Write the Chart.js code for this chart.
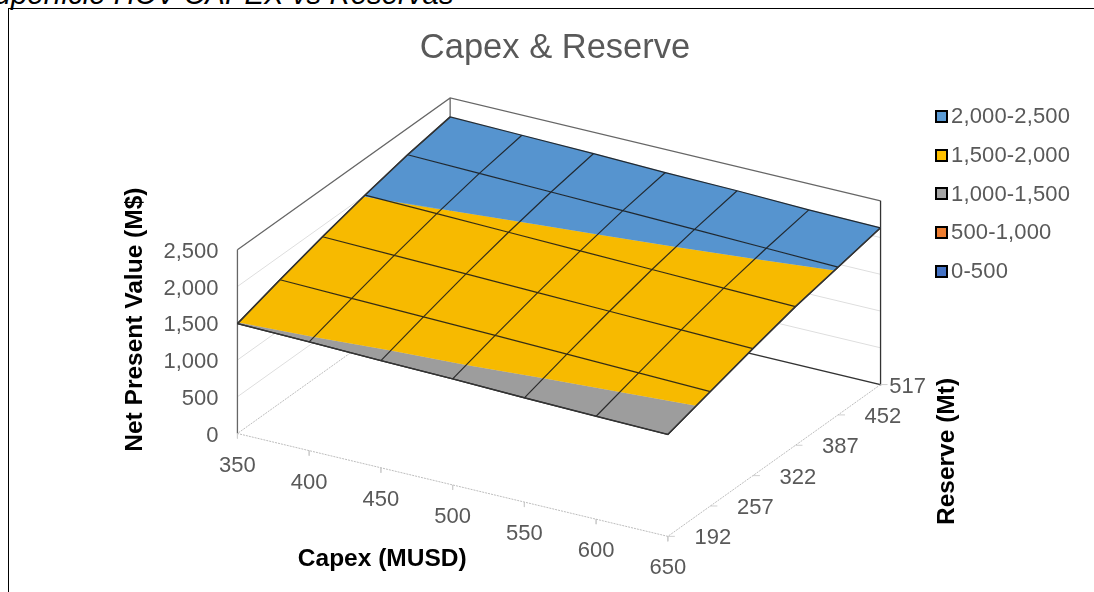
<!DOCTYPE html>
<html>
<head>
<meta charset="utf-8">
<title>Capex & Reserve</title>
<script src="https://cdn.jsdelivr.net/npm/chart.js@4/dist/chart.umd.min.js"></script>
<style>
    html, body { margin: 0; height: 100%; overflow: hidden; background: #fff; }
    #caption {
        position: absolute; left: -25px; top: -21px; white-space: nowrap;
        font: italic 29.4px/29px "Liberation Sans", Arial, sans-serif; color: #000;
    }
    #frame {
        position: absolute; left: 8px; top: 8px; width: 1200px; height: 700px;
        border-left: 1px solid #000; border-top: 1px solid #000;
    }
    #chart { position: absolute; left: 0; top: 0; }
    #legend {
        position: absolute; left: 926px; top: 88px; margin: 0; padding: 0; list-style: none;
        font: 22px/38.75px "Liberation Sans", Arial, sans-serif; color: #595959; letter-spacing: 0.15px;
    }
    #legend li { display: flex; align-items: center; white-space: nowrap; height: 38.75px; }
    #legend i { display: block; box-sizing: border-box; width: 13px; height: 13px; margin-right: 3px; border: 2px solid #000; }
</style>
</head>
<body>
<div id="caption">Superficie HCV CAPEX vs Reservas</div>
<div id="frame"><canvas id="chart" width="1092" height="600"></canvas><ul id="legend"></ul></div>
<script>
    var capexValues = [350, 400, 450, 500, 550, 600, 650];
    var reserveValues = [192, 257, 322, 387, 452, 517];
    var npvTicks = [0, 500, 1000, 1500, 2000, 2500];

    // one row per reserve, one column per capex
    var npv192 = [1495, 1480, 1458, 1443, 1418, 1401, 1386];
    var npv257 = [1679, 1659, 1641, 1621, 1600, 1578, 1557];
    var npv322 = [1851, 1830, 1812, 1790, 1770, 1750, 1728];
    var npv387 = [2005, 1985, 1965, 1945, 1925, 1905, 1886];
    var npv452 = [2140, 2120, 2100, 2080, 2058, 2035, 2010];
    var npv517 = [2242, 2226, 2210, 2185, 2170, 2144, 2133];
    var npvRows = [npv192, npv257, npv322, npv387, npv452, npv517];

    var bandLabels = ['2,000-2,500', '1,500-2,000', '1,000-1,500', '500-1,000', '0-500'];
    var bandLow = [2000, 1500, 1000, 500, 0];
    var bandHigh = [2500, 2000, 1500, 1000, 500];

    var surfaceColors = ['#5694cf', '#f7ba00', '#9d9d9d', '#e2762e', '#4069b8'];
    var swatchColors = ['#5b9bd5', '#ffc000', '#a5a5a5', '#ed7d31', '#4472c4'];
    var FONT = '"Liberation Sans", Arial, sans-serif';
    var TEXT = '#595959';

    // oblique projection of the box: floor origin, then one vector per axis
    var ORIGIN = { x: 228, y: 425 };
    var CAPEX_VEC = { x: 431, y: 103 };
    var RESERVE_VEC = { x: 213, y: -152 };
    var NPV_VEC = { x: 0, y: -184 };

    function project(capex, reserve, npv) {
        var c = (capex - 350) / 300;
        var r = (reserve - 192) / 325;
        var z = npv / 2500;
        return {
            x: ORIGIN.x + c * CAPEX_VEC.x + r * RESERVE_VEC.x + z * NPV_VEC.x,
            y: ORIGIN.y + c * CAPEX_VEC.y + r * RESERVE_VEC.y + z * NPV_VEC.y
        };
    }

    // clip one grid cell to a value band, returns the corners as [capex, reserve, npv]
    function clipCell(cell, low, high) {
        function clip(poly, keep, limit) {
            var out = [];
            for (var i = 0; i < poly.length; i++) {
                var a = poly[i], b = poly[(i + 1) % poly.length];
                if (keep(a[2])) out.push(a);
                if (keep(a[2]) !== keep(b[2])) {
                    var t = (limit - a[2]) / (b[2] - a[2]);
                    out.push([a[0] + t * (b[0] - a[0]), a[1] + t * (b[1] - a[1]), limit]);
                }
            }
            return out;
        }
        var poly = clip(cell, function(v) { return v >= low; }, low);
        return poly.length ? clip(poly, function(v) { return v <= high; }, high) : poly;
    }

    function bandPoints(low, high) {
        var pts = [];
        for (var r = 0; r < reserveValues.length - 1; r++) {
            for (var c = 0; c < capexValues.length - 1; c++) {
                var cell = [
                    [capexValues[c], reserveValues[r], npvRows[r][c]],
                    [capexValues[c + 1], reserveValues[r], npvRows[r][c + 1]],
                    [capexValues[c + 1], reserveValues[r + 1], npvRows[r + 1][c + 1]],
                    [capexValues[c], reserveValues[r + 1], npvRows[r + 1][c]]
                ];
                var poly = clipCell(cell, low, high);
                if (!poly.length) continue;
                poly.forEach(function(p) { pts.push(project(p[0], p[1], p[2])); });
                pts.push({ x: null, y: null });
            }
        }
        return pts;
    }

    function gridPoints() {
        var pts = [];
        npvRows.forEach(function(row, r) {
            row.forEach(function(v, c) { pts.push(project(capexValues[c], reserveValues[r], v)); });
            pts.push({ x: null, y: null });
        });
        capexValues.forEach(function(capex, c) {
            reserveValues.forEach(function(reserve, r) { pts.push(project(capex, reserve, npvRows[r][c])); });
            pts.push({ x: null, y: null });
        });
        return pts;
    }

    // front, right and left rim of the surface, a little heavier than the inner grid
    function rimPoints() {
        var lastCol = capexValues.length - 1, pts = [];
        reserveValues.forEach(function(reserve, r) { pts.push(project(350, reserve, npvRows[r][0])); });
        pts.push({ x: null, y: null });
        capexValues.forEach(function(capex, c) { pts.push(project(capex, 192, npvRows[0][c])); });
        reserveValues.forEach(function(reserve, r) { pts.push(project(650, reserve, npvRows[r][lastCol])); });
        return pts;
    }

    function segment(a, b) { return [a, b, { x: null, y: null }]; }

    function wallGrid() {
        var pts = [];
        npvTicks.slice(1, -1).forEach(function(v) {
            pts = pts.concat([project(350, 192, v), project(350, 517, v), project(650, 517, v), { x: null, y: null }]);
        });
        return pts;
    }

    function boxEdges() {
        return [].concat(
            segment(project(350, 192, 0), project(350, 192, 2500)),
            [project(350, 192, 2500), project(350, 517, 2500), project(650, 517, 2500), { x: null, y: null }],
            segment(project(350, 517, 0), project(350, 517, 2500))
        );
    }

    // right wall upright and the back floor edge read darker than the rest
    function backEdges() {
        return [project(650, 517, 2500), project(650, 517, 0), project(350, 517, 0)];
    }

    function floorEdges() {
        return [project(350, 517, 0), project(350, 192, 0), project(650, 192, 0), project(650, 517, 0)];
    }

    function floorTicks() {
        var pts = [];
        capexValues.forEach(function(capex) {
            var p = project(capex, 192, 0);
            pts = pts.concat(segment(p, { x: p.x, y: p.y + 5 }));
        });
        reserveValues.forEach(function(reserve) {
            var p = project(650, reserve, 0);
            pts = pts.concat(segment(p, { x: p.x + 7, y: p.y }));
        });
        return pts;
    }

    function lineSet(points, color, width, order, dash) {
        return { data: points, borderColor: color, borderWidth: width, borderDash: dash || [], pointRadius: 0, fill: false, clip: false, spanGaps: false, order: order, tension: 0 };
    }

    var bandSets = bandLabels.map(function(label, i) {
        return {
            label: label,
            data: bandPoints(bandLow[i], bandHigh[i]),
            backgroundColor: surfaceColors[i],
            borderColor: surfaceColors[i],
            borderWidth: 0.5,
            fill: 'shape',
            pointRadius: 0,
            tension: 0,
            spanGaps: false,
            clip: false,
            order: 2
        };
    });

    // axis titles and tick labels sit along the projected box edges
    var boxLabels = {
        id: 'boxLabels',
        afterDatasetsDraw: function(chart) {
            var ctx = chart.ctx, xs = chart.scales.x, ys = chart.scales.y;
            function put(text, x, y, font, color, align, angle) {
                ctx.save();
                ctx.translate(xs.getPixelForValue(x), ys.getPixelForValue(y));
                ctx.rotate(angle || 0);
                ctx.font = font;
                ctx.fillStyle = color;
                ctx.textAlign = align || 'center';
                ctx.textBaseline = 'middle';
                ctx.fillText(text, 0, 0);
                ctx.restore();
            }
            var tickFont = '22px ' + FONT, titleFont = 'bold 24.5px ' + FONT;
            npvTicks.forEach(function(v) {
                var p = project(350, 192, v);
                put(v.toLocaleString('en-US'), p.x - 19, p.y + 2, tickFont, TEXT, 'right');
            });
            capexValues.forEach(function(capex) {
                var p = project(capex, 192, 0);
                put(String(capex), p.x, p.y + 32, tickFont, TEXT);
            });
            reserveValues.forEach(function(reserve, i) {
                var p = project(650, reserve, 0);
                put(String(reserve), p.x + (i === reserveValues.length - 1 ? 27 : 45), p.y + 2, tickFont, TEXT);
            });
            put('Capex (MUSD)', 373, 551, titleFont, '#000');
            put('Reserve (Mt)', 939, 443, titleFont, '#000', 'center', -Math.PI / 2);
            put('Net Present Value (M$)', 126, 311, titleFont, '#000', 'center', -Math.PI / 2);
        }
    };

    var chart = new Chart(document.getElementById('chart'), {
        type: 'line',
        data: {
            datasets: bandSets.concat([
                lineSet(gridPoints(), 'rgba(20,20,20,0.85)', 1.2, 1),
                lineSet(rimPoints(), '#333', 1.5, 0),
                lineSet(wallGrid(), '#dedede', 1, 6),
                lineSet(boxEdges(), '#666', 1.3, 5),
                lineSet(backEdges(), '#333', 1.3, 4),
                lineSet(floorEdges(), '#bdbdbd', 1, 3, [2, 1]),
                lineSet(floorTicks(), '#cfcfcf', 1, 3)
            ])
        },
        plugins: [boxLabels],
        options: {
            responsive: false,
            animation: false,
            layout: { padding: { top: 19 } },
            scales: {
                x: { type: 'linear', display: false, min: 0, max: 1092 },
                y: { type: 'linear', display: false, min: 0, max: 600, reverse: true }
            },
            plugins: {
                tooltip: { enabled: false },
                legend: { display: false },
                title: {
                    display: true,
                    text: 'Capex & Reserve',
                    color: TEXT,
                    font: { family: FONT, size: 34.5, weight: 'normal' },
                    padding: { top: 0, bottom: 4 }
                }
            }
        }
    });

    // scale units follow canvas pixels once the title has taken its room
    chart.options.scales.x.min = chart.chartArea.left;
    chart.options.scales.x.max = chart.chartArea.right;
    chart.options.scales.y.min = chart.chartArea.top;
    chart.options.scales.y.max = chart.chartArea.bottom;
    chart.update();

    // legend is a plain list built from the band datasets
    var legendList = document.getElementById('legend');
    bandLabels.forEach(function(label, i) {
        var li = document.createElement('li');
        var box = document.createElement('i');
        box.style.background = swatchColors[i];
        li.appendChild(box);
        li.appendChild(document.createTextNode(chart.data.datasets[i].label));
        legendList.appendChild(li);
    });
</script>
</body>
</html>
